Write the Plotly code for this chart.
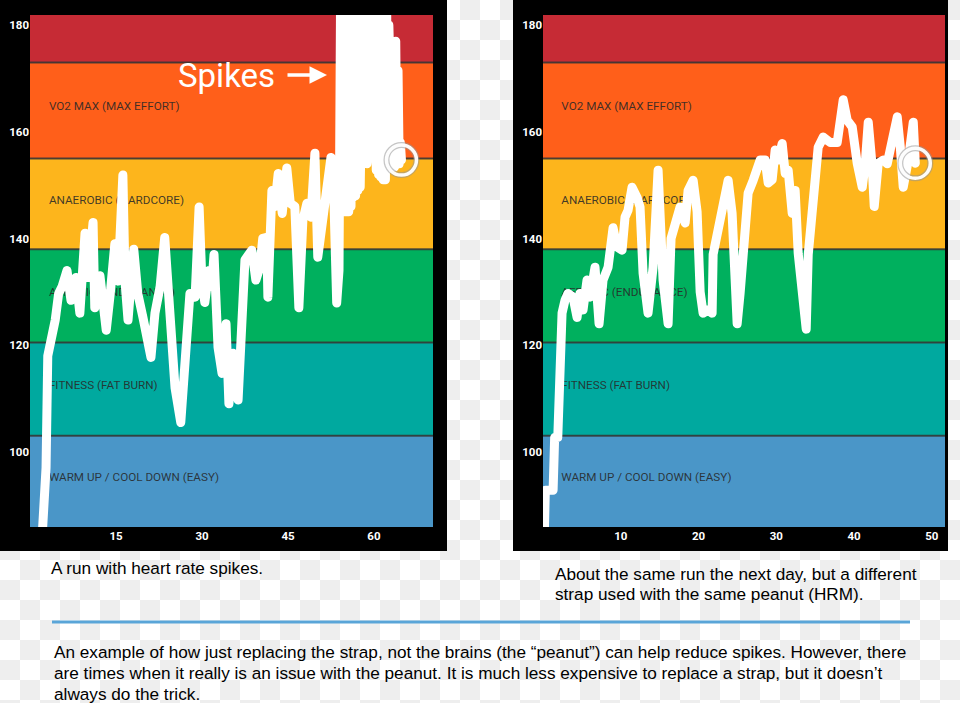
import base64
import plotly.graph_objects as go

# ---------------- data ----------------
LEFT_MIN = [1.9, 2.2, 2.4, 2.8, 3.1, 3.6, 4.0, 4.4, 5.0, 5.6, 6.45, 7.15, 8.0, 8.7, 9.6, 10.1,
            11.0, 11.3, 12.2, 13.3, 14.0, 14.8, 15.35, 16.2, 16.6, 17.1, 18.1, 18.8, 19.7, 20.2,
            21.1, 21.8, 22.7, 23.5, 24.1, 24.6, 25.3, 26.3, 26.9, 27.4, 27.9, 28.8, 29.5, 30.0,
            30.5, 31.2, 31.7, 32.1, 32.8, 33.5, 34.2, 34.7, 35.4, 36.3, 37.0, 37.5, 38.7, 39.4,
            40.1, 40.6, 41.3, 41.5, 42.2, 42.7, 43.3, 44.0, 44.8, 45.4, 46.2, 46.9, 47.6, 48.3,
            49.0, 49.7, 50.2, 51.1, 51.8, 52.5, 53.0, 53.5, 53.9,
            54.2, 54.4, 54.6, 54.8, 55.0, 55.2, 55.4, 55.6, 55.8, 56.0, 56.2, 56.4, 56.6, 56.8,
            57.0, 57.2, 57.4, 57.6, 57.8, 58.0, 58.2, 58.4, 58.6, 58.8, 59.0, 59.2, 59.4, 59.6,
            59.8, 60.0, 60.2, 60.4, 60.6, 60.8, 61.0, 61.2, 61.4, 61.6, 61.8, 62.0, 62.2, 62.4,
            62.6, 62.8, 63.0, 63.2, 63.4, 63.6, 63.8, 64.0, 64.2, 64.4, 64.6, 64.8]
LEFT_BPM = [80, 86, 96, 97, 118, 120, 122, 124.7, 129.7, 131, 134, 128.4, 132.7, 126, 141, 132.7,
            143, 127, 133, 122.8, 129.7, 139, 132, 151.9, 131.6, 124.7, 138, 129.7, 125.2, 121.5,
            117.7, 126, 131, 140.2, 129.7, 127, 112, 105.5, 115, 121.5, 129.7, 129, 145.9, 131.6,
            128, 134, 131, 137, 119.6, 114.7, 124, 109, 118.5, 109.7, 129.7, 136, 137.8, 132.2,
            134.6, 140, 140.2, 129, 149, 146, 152.2, 144.7, 153.2, 146.6, 146, 127, 143.4, 146.6,
            144, 156, 136.5, 144.7, 147.7, 155.2, 148, 127.9, 134,
            190, 146, 190, 145, 190, 145, 190, 145, 179, 146, 179, 147.7, 180, 148,
            190, 149, 190, 149.6, 190, 152, 190, 154.7, 190, 154, 190, 155, 190, 157,
            190, 155, 190, 152.8, 190, 152, 190, 151.5, 190, 151, 190, 151, 186, 153,
            180, 156, 177, 155, 177, 153.4, 177, 154, 171.5, 154, 158, 154.7]

RIGHT_MIN = [0.1, 0.3, 1.3, 1.5, 1.9, 2.45, 2.83, 3.22, 3.86, 4.38, 4.76, 5.15, 5.66, 6.05, 6.69,
             7.21, 7.72, 8.37, 9.01, 9.52, 10.17, 10.55, 10.94, 11.45, 12.1, 12.48, 12.87, 13.51,
             14.16, 14.8, 15.44, 16.09, 16.47, 16.99, 17.63, 18.28, 18.66, 19.31, 19.82, 20.21,
             20.59, 21.24, 21.75, 21.88, 22.52, 23.04, 23.42, 23.81, 24.32, 24.71, 24.97, 25.35,
             26.0, 26.38, 27.03, 27.54, 27.93, 28.57, 28.96, 29.47, 29.86, 30.24, 30.76, 31.15,
             31.53, 32.05, 32.43, 32.82, 33.46, 33.85, 34.11, 34.62, 35.01, 35.39, 36.04, 36.94,
             37.84, 38.22, 38.61, 39.12, 39.77, 40.41, 41.06, 41.44, 41.83, 42.34, 42.6, 43.11,
             43.76, 44.27, 44.79, 45.56, 45.95, 46.33, 46.98, 47.62, 47.88]
RIGHT_BPM = [80, 92.8, 92.8, 102.7, 102.7, 126, 128.4, 129.7, 129, 125.2, 129.7, 126.6, 132.2, 129,
             134.6, 124, 132.2, 134.6, 142, 138.4, 137.8, 144, 145.3, 149.6, 147.7, 145.9, 133.5,
             126, 134.6, 152.8, 132.2, 124, 140, 143.4, 145.9, 142.9, 149, 150.9, 145, 130, 126,
             126.6, 126, 137, 142, 146.6, 148.5, 150.9, 144.7, 130.3, 124, 129.7, 139.7, 148.5,
             150.9, 153.4, 154.7, 154.7, 150.4, 151, 156.6, 154.7, 157.8, 152.2, 152.8, 144.7,
             149, 137.2, 126, 123, 137, 144.7, 153.4, 157.1, 159, 158, 158, 161.6, 166, 162.2,
             160.9, 154.1, 149.6, 154, 161.8, 153.4, 146, 154.1, 154.7, 154, 158.4, 162.8, 157.1,
             149.6, 154.7, 161.8, 154.1]

ZONE_EDGES = [103, 120.5, 138, 155, 173]
ZONE_NAMES = ["WARM UP / COOL DOWN (EASY)", "FITNESS (FAT BURN)", "AEROBIC (ENDURANCE)",
              "ANAEROBIC (HARDCORE)", "VO2 MAX (MAX EFFORT)"]
ZONE_COLORS = ["#4A96C8", "#00A99F", "#00B05E", "#FDB51C", "#FF5F1A", "#C62B35"]

Y_TICKS = [100, 120, 140, 160, 180]
LEFT_X_TICKS = [15, 30, 45, 60]
RIGHT_X_TICKS = [10, 20, 30, 40, 50]

CAPTION_LEFT = "A run with heart rate spikes."
CAPTION_RIGHT = ["About the same run the next day, but a different",
                 "strap used with the same peanut (HRM)."]
PARAGRAPH = ["An example of how just replacing the strap, not the brains (the \u201cpeanut\u201d) can help reduce spikes. However, there",
             "are times when it really is an issue with the peanut. It is much less expensive to replace a strap, but it doesn\u2019t",
             "always do the trick."]

# ---------------- layout helpers ----------------
W, H = 960, 703
def px(x):
    return x / W
def py(y):
    return 1 - y / H

Y_RANGE = [85.9, 181.9]
LEFT_X_RANGE = [0, 70.3]
RIGHT_X_RANGE = [0, 51.7]

fig = go.Figure()

# checkerboard background (transparency pattern of the source image)
svg = ('<svg xmlns="http://www.w3.org/2000/svg" width="960" height="703">'
       '<defs><pattern id="p" width="40" height="40" patternUnits="userSpaceOnUse">'
       '<rect width="40" height="40" fill="#ffffff"/>'
       '<rect x="20" y="0" width="20" height="20" fill="#eeeeee"/>'
       '<rect x="0" y="20" width="20" height="20" fill="#eeeeee"/>'
       '</pattern></defs><rect width="960" height="703" fill="url(#p)"/></svg>')
svg_uri = "data:image/svg+xml;base64," + base64.b64encode(svg.encode()).decode()

shapes = []
# black panels
shapes.append(dict(type="rect", xref="paper", yref="paper", x0=0, x1=px(447), y0=py(551), y1=py(0),
                   fillcolor="black", line=dict(width=0), layer="below"))
shapes.append(dict(type="rect", xref="paper", yref="paper", x0=px(513), x1=px(948), y0=py(551), y1=py(0),
                   fillcolor="black", line=dict(width=0), layer="below"))

bottoms = [70] + ZONE_EDGES
tops = ZONE_EDGES + [200]
for xa, ya in (("x", "y"), ("x2", "y2")):
    for b, t, c in zip(bottoms, tops, ZONE_COLORS):
        shapes.append(dict(type="rect", xref=f"{xa} domain", yref=ya, x0=0, x1=1, y0=b, y1=t,
                           fillcolor=c, line=dict(width=0), layer="below"))
    for e in ZONE_EDGES:
        shapes.append(dict(type="line", xref=f"{xa} domain", yref=ya, x0=0, x1=1, y0=e, y1=e,
                           line=dict(color="rgba(55,55,55,0.85)", width=2), layer="below"))

# divider line
shapes.append(dict(type="line", xref="paper", yref="paper", x0=px(52), x1=px(910), y0=py(622), y1=py(622),
                   line=dict(color="#5AA5D8", width=3)))

mids = [(a + b) / 2 for a, b in zip(bottoms, tops)][:5]
mids[0] = (Y_RANGE[0] + ZONE_EDGES[0]) / 2 + 0.7
mids = [m + 0.6 if i else m for i, m in enumerate(mids)]

label_font = dict(family="Roboto", size=11.7, color="rgba(40,40,40,0.88)")
fig.add_trace(go.Scatter(x=[3.3] * 5, y=mids, mode="text", text=ZONE_NAMES, textposition="middle right",
                         textfont=label_font, xaxis="x", yaxis="y", hoverinfo="skip"))
fig.add_trace(go.Scatter(x=[2.35] * 5, y=mids, mode="text", text=ZONE_NAMES, textposition="middle right",
                         textfont=label_font, xaxis="x2", yaxis="y2", hoverinfo="skip"))

line_style = dict(color="white", width=9)
fig.add_trace(go.Scatter(x=LEFT_MIN, y=LEFT_BPM, mode="lines", line=line_style, xaxis="x", yaxis="y"))
fig.add_trace(go.Scatter(x=RIGHT_MIN, y=RIGHT_BPM, mode="lines", line=line_style, xaxis="x2", yaxis="y2"))

ring_shadow = dict(symbol="circle-open", size=30, color="rgba(150,150,150,0.55)", line=dict(width=6))
ring = dict(symbol="circle-open", size=30, color="rgba(255,255,255,0.97)", line=dict(width=3.5))
for xa, ya, xs, ys in (("x", "y", LEFT_MIN, LEFT_BPM), ("x2", "y2", RIGHT_MIN, RIGHT_BPM)):
    fig.add_trace(go.Scatter(x=[xs[-1]], y=[ys[-1]], mode="markers", marker=ring_shadow,
                             xaxis=xa, yaxis=ya, cliponaxis=False))
    fig.add_trace(go.Scatter(x=[xs[-1]], y=[ys[-1]], mode="markers", marker=ring,
                             xaxis=xa, yaxis=ya, cliponaxis=False))

tickfont = dict(family="Roboto", size=11.5, color="white", weight="bold")
axis_common = dict(showgrid=False, zeroline=False, showline=False, ticks="", tickfont=tickfont, fixedrange=True)

TXT = dict(family="Arial, Liberation Sans", size=17.2, color="black")
annotations = [
    dict(text="Spikes", x=px(226), y=py(75), xref="paper", yref="paper", showarrow=False,
         xanchor="center", yanchor="middle", font=dict(family="Roboto", size=33, color="white")),
    dict(text="", x=px(327), y=py(75), xref="paper", yref="paper", showarrow=True, ax=-41, ay=0,
         arrowhead=2, arrowsize=1, arrowwidth=3.5, arrowcolor="white"),
    dict(text=CAPTION_LEFT, x=px(49), y=py(568), xref="paper", yref="paper", showarrow=False,
         xanchor="left", yanchor="middle", font=TXT),
]
for i, t in enumerate(CAPTION_RIGHT):
    annotations.append(dict(text=t, x=px(553), y=py(574 + 19.5 * i), xref="paper", yref="paper",
                            showarrow=False, xanchor="left", yanchor="middle", font=TXT))
for i, t in enumerate(PARAGRAPH):
    annotations.append(dict(text=t, x=px(52), y=py(652 + 21 * i), xref="paper", yref="paper",
                            showarrow=False, xanchor="left", yanchor="middle", font=TXT))

fig.update_layout(
    width=W, height=H, margin=dict(l=0, r=0, t=0, b=0),
    paper_bgcolor="white", plot_bgcolor="rgba(0,0,0,0)",
    showlegend=False, hovermode=False,
    images=[dict(source=svg_uri, xref="paper", yref="paper", x=0, y=1, sizex=1, sizey=1,
                 xanchor="left", yanchor="top", sizing="stretch", layer="below")],
    shapes=shapes, annotations=annotations,
    xaxis=dict(domain=[px(30), px(433)], range=LEFT_X_RANGE, tickvals=LEFT_X_TICKS, anchor="y", **axis_common),
    yaxis=dict(domain=[py(527), py(15)], range=Y_RANGE, tickvals=Y_TICKS, anchor="x", **axis_common),
    xaxis2=dict(domain=[px(543), px(945)], range=RIGHT_X_RANGE, tickvals=RIGHT_X_TICKS, anchor="y2", **axis_common),
    yaxis2=dict(domain=[py(527), py(15)], range=Y_RANGE, tickvals=Y_TICKS, anchor="x2", **axis_common),
)

post = ("document.body.style.margin='0';"
        "var gd=document.getElementById('{plot_id}');"
        "function rj(){gd.querySelectorAll('path.js-line').forEach(function(p){"
        "p.style.strokeLinejoin='round';p.style.strokeLinecap='round';});}"
        "rj(); if(gd.on){gd.on('plotly_afterplot', rj);}")
fig.write_html("out.html", post_script=post, config={"displayModeBar": False, "staticPlot": True})
